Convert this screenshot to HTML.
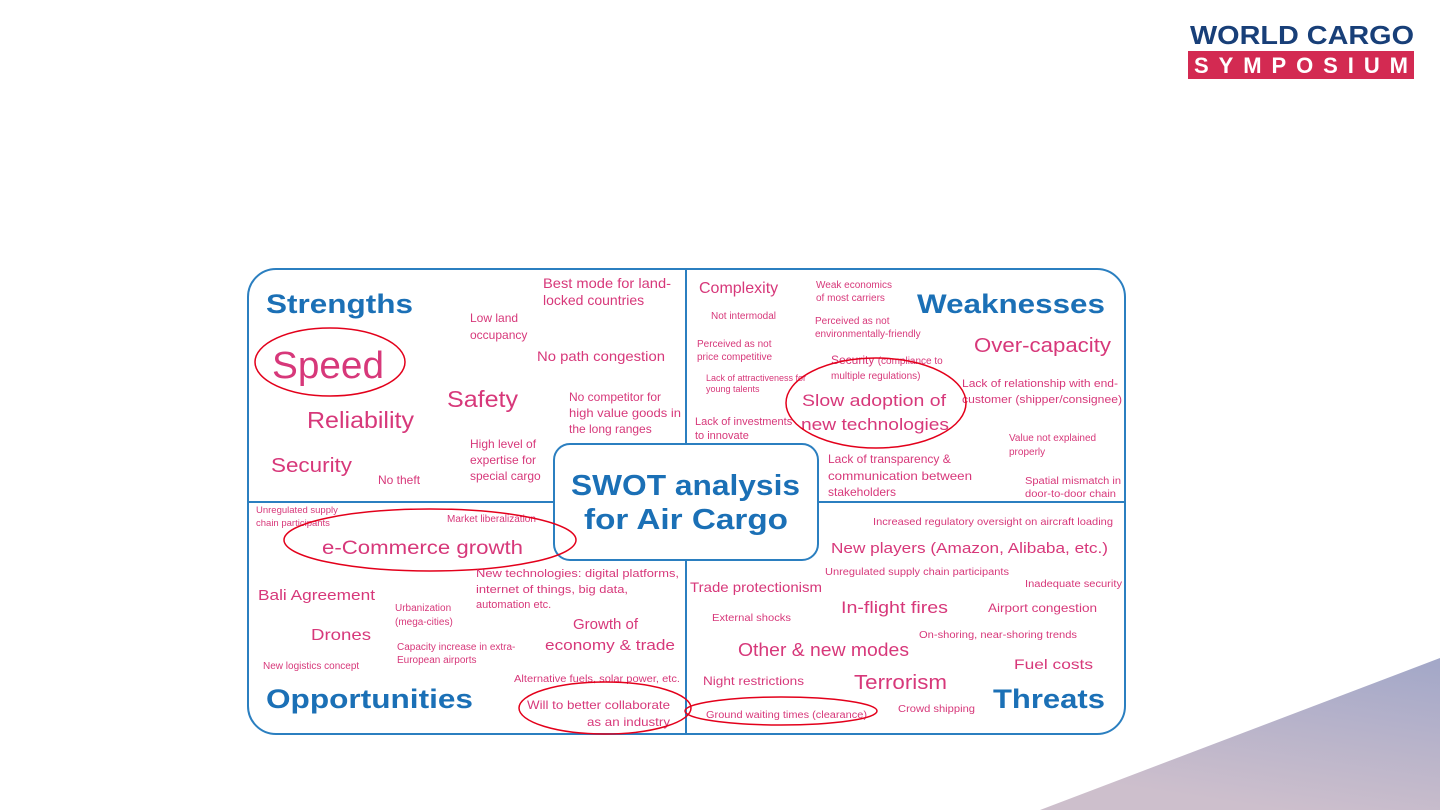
<!DOCTYPE html>
<html><head><meta charset="utf-8"><style>
html,body{margin:0;padding:0;background:#fff;width:1440px;height:810px;overflow:hidden}
svg{display:block}
text{font-family:"Liberation Sans",sans-serif}
.p{fill:#d7387a}
.b{fill:#1b70b6;font-weight:bold}
</style></head><body>
<svg width="1440" height="810" viewBox="0 0 1440 810">
<defs><linearGradient id="g" x1="1" y1="0" x2="0.6" y2="1"><stop offset="0" stop-color="#a2a7c8"/><stop offset="1" stop-color="#cdbfcc"/></linearGradient></defs>
<polygon points="1040,810 1440,658 1440,810" fill="url(#g)"/>
<!-- logo -->
<text x="1190" y="44" font-size="26" font-weight="bold" fill="#183f78" textLength="224" lengthAdjust="spacingAndGlyphs">WORLD CARGO</text>
<rect x="1188" y="51" width="226" height="28" fill="#d32a52"/>
<text x="1194" y="73" font-size="22" font-weight="bold" fill="#fff" textLength="214" lengthAdjust="spacing">SYMPOSIUM</text>
<!-- main box -->
<rect x="248" y="269" width="877" height="465" rx="28" fill="#fff" stroke="#2b7fc0" stroke-width="2"/>
<line x1="686" y1="269" x2="686" y2="734" stroke="#2b7fc0" stroke-width="2"/>
<line x1="248" y1="502" x2="1125" y2="502" stroke="#2b7fc0" stroke-width="2"/>
<rect x="554" y="444" width="264" height="116" rx="16" fill="#fff" stroke="#2b7fc0" stroke-width="2"/>
<text x="571" y="495" class="b" font-size="29" textLength="229" lengthAdjust="spacingAndGlyphs">SWOT analysis</text>
<text x="584" y="529" class="b" font-size="29" textLength="204" lengthAdjust="spacingAndGlyphs">for  Air Cargo</text>
<!-- Strengths -->
<text x="266" y="313" class="b" font-size="27" textLength="147" lengthAdjust="spacingAndGlyphs">Strengths</text>
<text x="272" y="378" class="p" font-size="38" textLength="112" lengthAdjust="spacingAndGlyphs">Speed</text>
<text x="307" y="428" class="p" font-size="23" textLength="107" lengthAdjust="spacingAndGlyphs">Reliability</text>
<text x="271" y="472" class="p" font-size="20" textLength="81" lengthAdjust="spacingAndGlyphs">Security</text>
<text x="378" y="484" class="p" font-size="12">No theft</text>
<text x="447" y="407" class="p" font-size="23" textLength="71" lengthAdjust="spacingAndGlyphs">Safety</text>
<text x="543" y="288" class="p" font-size="14" textLength="128" lengthAdjust="spacingAndGlyphs">Best mode for land-</text>
<text x="543" y="305" class="p" font-size="14">locked countries</text>
<text x="470" y="322" class="p" font-size="12">Low land</text>
<text x="470" y="339" class="p" font-size="12">occupancy</text>
<text x="537" y="361" class="p" font-size="14" textLength="128" lengthAdjust="spacingAndGlyphs">No path congestion</text>
<text x="569" y="401" class="p" font-size="12">No competitor for</text>
<text x="569" y="417" class="p" font-size="12" textLength="112" lengthAdjust="spacingAndGlyphs">high value goods in</text>
<text x="569" y="433" class="p" font-size="12">the long ranges</text>
<text x="470" y="448" class="p" font-size="12">High level of</text>
<text x="470" y="464" class="p" font-size="12">expertise for</text>
<text x="470" y="480" class="p" font-size="12">special cargo</text>
<ellipse cx="330" cy="362" rx="75" ry="34" fill="none" stroke="#e3001b" stroke-width="1.5"/>
<!-- Weaknesses -->
<text x="917" y="313" class="b" font-size="27" textLength="188" lengthAdjust="spacingAndGlyphs">Weaknesses</text>
<text x="699" y="293" class="p" font-size="16">Complexity</text>
<text x="816" y="288" class="p" font-size="10">Weak economics</text>
<text x="816" y="301" class="p" font-size="10">of most carriers</text>
<text x="711" y="319" class="p" font-size="10">Not intermodal</text>
<text x="815" y="324" class="p" font-size="10">Perceived as not</text>
<text x="815" y="337" class="p" font-size="10">environmentally-friendly</text>
<text x="974" y="352" class="p" font-size="20" textLength="137" lengthAdjust="spacingAndGlyphs">Over-capacity</text>
<text x="697" y="347" class="p" font-size="10">Perceived as not</text>
<text x="697" y="360" class="p" font-size="10">price competitive</text>
<text x="831" y="364" class="p" font-size="12">Security <tspan font-size="10">(compliance to</tspan></text>
<text x="831" y="379" class="p" font-size="10">multiple regulations)</text>
<text x="706" y="381" class="p" font-size="9">Lack of attractiveness  for</text>
<text x="706" y="392" class="p" font-size="9">young talents</text>
<text x="802" y="406" class="p" font-size="17" textLength="144" lengthAdjust="spacingAndGlyphs">Slow adoption  of</text>
<text x="801" y="430" class="p" font-size="17" textLength="148" lengthAdjust="spacingAndGlyphs">new technologies</text>
<text x="962" y="387" class="p" font-size="11" textLength="156" lengthAdjust="spacingAndGlyphs">Lack of relationship with end-</text>
<text x="962" y="403" class="p" font-size="11" textLength="160" lengthAdjust="spacingAndGlyphs">customer (shipper/consignee)</text>
<text x="695" y="425" class="p" font-size="11">Lack of investments</text>
<text x="695" y="439" class="p" font-size="11">to innovate</text>
<text x="1009" y="441" class="p" font-size="10">Value not explained</text>
<text x="1009" y="455" class="p" font-size="10">properly</text>
<text x="828" y="463" class="p" font-size="12">Lack of transparency &amp;</text>
<text x="828" y="480" class="p" font-size="12" textLength="144" lengthAdjust="spacingAndGlyphs">communication  between</text>
<text x="828" y="496" class="p" font-size="12">stakeholders</text>
<text x="1025" y="484" class="p" font-size="10" textLength="96" lengthAdjust="spacingAndGlyphs">Spatial mismatch in</text>
<text x="1025" y="497" class="p" font-size="10" textLength="91" lengthAdjust="spacingAndGlyphs">door-to-door chain</text>
<ellipse cx="876" cy="403" rx="90" ry="45" fill="none" stroke="#e3001b" stroke-width="1.5"/>
<!-- Opportunities -->
<text x="256" y="513" class="p" font-size="9.5">Unregulated supply</text>
<text x="256" y="526" class="p" font-size="9.5">chain participants</text>
<text x="447" y="522" class="p" font-size="10">Market liberalization</text>
<text x="322" y="554" class="p" font-size="19" textLength="201" lengthAdjust="spacingAndGlyphs">e-Commerce growth</text>
<ellipse cx="430" cy="540" rx="146" ry="31" fill="none" stroke="#e3001b" stroke-width="1.5"/>
<text x="476" y="577" class="p" font-size="11" textLength="203" lengthAdjust="spacingAndGlyphs">New technologies: digital platforms,</text>
<text x="476" y="593" class="p" font-size="11" textLength="152" lengthAdjust="spacingAndGlyphs">internet  of things,  big data,</text>
<text x="476" y="608" class="p" font-size="11">automation etc.</text>
<text x="258" y="600" class="p" font-size="15" textLength="117" lengthAdjust="spacingAndGlyphs">Bali Agreement</text>
<text x="395" y="611" class="p" font-size="10">Urbanization</text>
<text x="395" y="625" class="p" font-size="10">(mega-cities)</text>
<text x="573" y="629" class="p" font-size="15">Growth of</text>
<text x="545" y="650" class="p" font-size="15" textLength="130" lengthAdjust="spacingAndGlyphs">economy &amp; trade</text>
<text x="311" y="640" class="p" font-size="16" textLength="60" lengthAdjust="spacingAndGlyphs">Drones</text>
<text x="397" y="650" class="p" font-size="10">Capacity increase in extra-</text>
<text x="397" y="663" class="p" font-size="10">European airports</text>
<text x="263" y="669" class="p" font-size="10">New logistics concept</text>
<text x="514" y="682" class="p" font-size="10" textLength="166" lengthAdjust="spacingAndGlyphs">Alternative fuels, solar power, etc.</text>
<text x="266" y="708" class="b" font-size="27" textLength="207" lengthAdjust="spacingAndGlyphs">Opportunities</text>
<text x="527" y="709" class="p" font-size="12" textLength="143" lengthAdjust="spacingAndGlyphs">Will to better collaborate</text>
<text x="587" y="726" class="p" font-size="12" textLength="83" lengthAdjust="spacingAndGlyphs">as an industry</text>
<ellipse cx="605" cy="708" rx="86" ry="26" fill="none" stroke="#e3001b" stroke-width="1.5"/>
<!-- Threats -->
<text x="873" y="525" class="p" font-size="10.5" textLength="240" lengthAdjust="spacingAndGlyphs">Increased regulatory oversight on aircraft loading</text>
<text x="831" y="553" class="p" font-size="15" textLength="277" lengthAdjust="spacingAndGlyphs">New players (Amazon, Alibaba, etc.)</text>
<text x="825" y="575" class="p" font-size="10" textLength="184" lengthAdjust="spacingAndGlyphs">Unregulated supply chain participants</text>
<text x="1025" y="587" class="p" font-size="10" textLength="97" lengthAdjust="spacingAndGlyphs">Inadequate security</text>
<text x="690" y="592" class="p" font-size="14" textLength="132" lengthAdjust="spacingAndGlyphs">Trade protectionism</text>
<text x="841" y="613" class="p" font-size="17" textLength="107" lengthAdjust="spacingAndGlyphs">In-flight fires</text>
<text x="988" y="612" class="p" font-size="12" textLength="109" lengthAdjust="spacingAndGlyphs">Airport congestion</text>
<text x="712" y="621" class="p" font-size="10.5" textLength="79" lengthAdjust="spacingAndGlyphs">External shocks</text>
<text x="919" y="638" class="p" font-size="10" textLength="158" lengthAdjust="spacingAndGlyphs">On-shoring, near-shoring trends</text>
<text x="738" y="656" class="p" font-size="18" textLength="171" lengthAdjust="spacingAndGlyphs">Other &amp; new modes</text>
<text x="1014" y="669" class="p" font-size="14" textLength="79" lengthAdjust="spacingAndGlyphs">Fuel costs</text>
<text x="703" y="685" class="p" font-size="12" textLength="101" lengthAdjust="spacingAndGlyphs">Night restrictions</text>
<text x="854" y="689" class="p" font-size="20" textLength="93" lengthAdjust="spacingAndGlyphs">Terrorism</text>
<text x="993" y="708" class="b" font-size="27" textLength="112" lengthAdjust="spacingAndGlyphs">Threats</text>
<text x="898" y="712" class="p" font-size="10" textLength="77" lengthAdjust="spacingAndGlyphs">Crowd shipping</text>
<text x="706" y="718" class="p" font-size="10" textLength="161" lengthAdjust="spacingAndGlyphs">Ground waiting times (clearance)</text>
<ellipse cx="781" cy="711" rx="96" ry="14" fill="none" stroke="#e3001b" stroke-width="1.5"/>
</svg>
</body></html>
